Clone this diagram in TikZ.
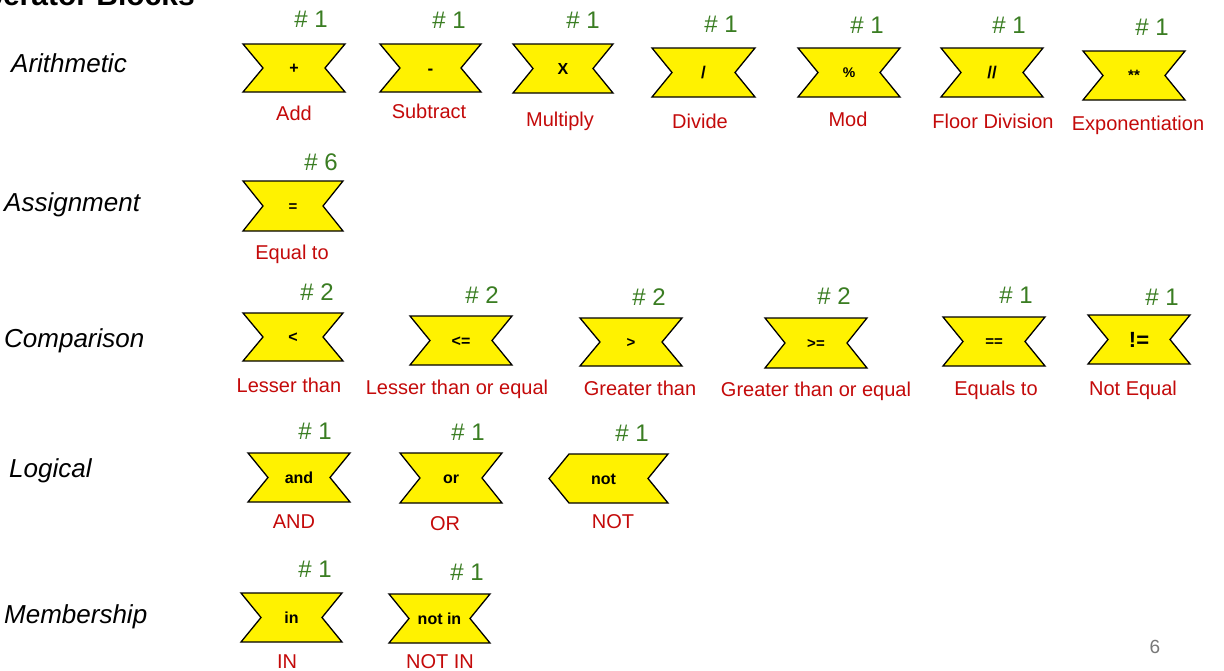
\documentclass[tikz,border=0pt]{standalone}
\usepackage{fontspec}
\setmainfont{Liberation Sans}
\definecolor{blkyellow}{RGB}{255,242,0}
\definecolor{numgreen}{RGB}{58,125,34}
\definecolor{lblred}{RGB}{196,10,10}
\definecolor{pggray}{RGB}{120,120,120}
\newcommand\opblock[7]{%
  \path[blockshape] (#2,#3) -- (#4,#3) -- ({#4-20},{(#3+#5)/2}) -- (#4,#5) -- (#2,#5) -- ({#2+20},{(#3+#5)/2}) -- cycle;
  \node[optext=#6] (#1) at ({(#2+#4)/2},{(#3+#5)/2}) {#7};}
\newcommand\notblock[7]{%
  \path[blockshape] ({#2+20},#3) -- (#4,#3) -- ({#4-20},{(#3+#5)/2}) -- (#4,#5) -- ({#2+20},#5) -- (#2,{(#3+#5)/2}) -- cycle;
  \node[optext=#6] (#1) at ({(#2+#4)/2-5},{(#3+#5)/2}) {#7};}
\begin{document}
\begin{tikzpicture}[x=1pt,y=-1pt,
  blockshape/.style={fill=blkyellow,draw=black,line width=1.3pt,line join=miter},
  optext/.style={font=\bfseries\fontsize{#1}{#1}\selectfont,inner sep=0pt,text height={0.72*#1pt},text depth=0pt},
  countlbl/.style={font=\fontsize{24}{24}\selectfont,text=numgreen,inner sep=0pt,text height=17.2pt,text depth=0pt},
  redlbl/.style={font=\fontsize{20}{20}\selectfont,text=lblred,inner sep=0pt,text height=14.4pt,text depth=0pt},
  catlbl/.style={font=\itshape\fontsize{26}{26}\selectfont,text=black,inner sep=0pt,anchor=base west}]
\useasboundingbox (0,0) rectangle (1224,670);
\fill[white] (0,0) rectangle (1224,670);
% title (cut off at top)
\node[font=\bfseries\fontsize{30}{30}\selectfont,inner sep=0pt,anchor=base east] (title) at (195,5) {Operator Blocks};
% categories
\node[catlbl] (cat1) at (11,72) {Arithmetic};
\node[catlbl] (cat2) at (4,211) {Assignment};
\node[catlbl] (cat3) at (4,347) {Comparison};
\node[catlbl] (cat4) at (9,477) {Logical};
\node[catlbl] (cat5) at (4,623) {Membership};
% arithmetic
\opblock{add}{243}{44}{345}{92}{16}{+}
\opblock{sub}{380}{44}{481}{92}{17}{-}
\opblock{mul}{513}{44}{613}{93}{16}{X}
\opblock{div}{652}{48}{755}{97}{17}{/}
\opblock{mod}{798}{48}{900}{97}{14}{\%}
\opblock{fdiv}{941}{48}{1043}{97}{17}{//}
\opblock{expo}{1083}{51}{1185}{100}{15}{**}
% assignment
\opblock{asg}{243}{181}{343}{231}{15}{=}
% comparison
\opblock{lt}{243}{313}{343}{361}{16}{<}
\opblock{le}{410}{316}{512}{365}{16}{<=}
\opblock{gt}{580}{318}{682}{366}{15}{>}
\opblock{ge}{765}{318}{867}{368}{15}{>=}
\opblock{eqeq}{943}{317}{1045}{366}{15}{==}
\opblock{ne}{1088}{315}{1190}{364}{22}{!=}
% logical
\opblock{andb}{248}{453}{350}{502}{16}{and}
\opblock{orb}{400}{453}{502}{503}{16}{or}
\notblock{notb}{549}{454}{668}{503}{16}{not}
% membership
\opblock{inb}{241}{593}{342}{642}{16}{in}
\opblock{notinb}{389}{594}{490}{643}{16}{not in}
% counts
\node[countlbl] (c1) at (311,19) {\# 1};
\node[countlbl] (c2) at (449,20) {\# 1};
\node[countlbl] (c3) at (583,20) {\# 1};
\node[countlbl] (c4) at (721,24) {\# 1};
\node[countlbl] (c5) at (867,25) {\# 1};
\node[countlbl] (c6) at (1009,25) {\# 1};
\node[countlbl] (c7) at (1152,27) {\# 1};
\node[countlbl] (c8) at (321,162) {\# 6};
\node[countlbl] (c9) at (317,292) {\# 2};
\node[countlbl] (c10) at (482,295) {\# 2};
\node[countlbl] (c11) at (649,297) {\# 2};
\node[countlbl] (c12) at (834,296) {\# 2};
\node[countlbl] (c13) at (1016,295) {\# 1};
\node[countlbl] (c14) at (1162,297) {\# 1};
\node[countlbl] (c15) at (315,431) {\# 1};
\node[countlbl] (c16) at (468,432) {\# 1};
\node[countlbl] (c17) at (632,433) {\# 1};
\node[countlbl] (c18) at (315,569) {\# 1};
\node[countlbl] (c19) at (467,572) {\# 1};
% labels
\node[redlbl] (l1) at (294,113) {Add};
\node[redlbl] (l2) at (429,111) {Subtract};
\node[redlbl] (l3) at (560,119) {Multiply};
\node[redlbl] (l4) at (700,121) {Divide};
\node[redlbl] (l5) at (848,119) {Mod};
\node[redlbl] (l6) at (993,121) {Floor Division};
\node[redlbl] (l7) at (1138,123) {Exponentiation};
\node[redlbl] (l8) at (292,252) {Equal to};
\node[redlbl] (l9) at (289,385) {Lesser than};
\node[redlbl] (l10) at (457,387) {Lesser than or equal};
\node[redlbl] (l11) at (640,388) {Greater than};
\node[redlbl] (l12) at (816,389) {Greater than or equal};
\node[redlbl] (l13) at (996,388) {Equals to};
\node[redlbl] (l14) at (1133,388) {Not Equal};
\node[redlbl] (l15) at (294,521) {AND};
\node[redlbl] (l16) at (445,523) {OR};
\node[redlbl] (l17) at (613,521) {NOT};
\node[redlbl] (l18) at (287,661) {IN};
\node[redlbl] (l19) at (440,661) {NOT IN};
% page number
\node[font=\fontsize{19}{19}\selectfont,text=pggray,inner sep=0pt,text height=13.7pt,text depth=0pt] (pg) at (1155,647) {6};
\end{tikzpicture}
\end{document}
